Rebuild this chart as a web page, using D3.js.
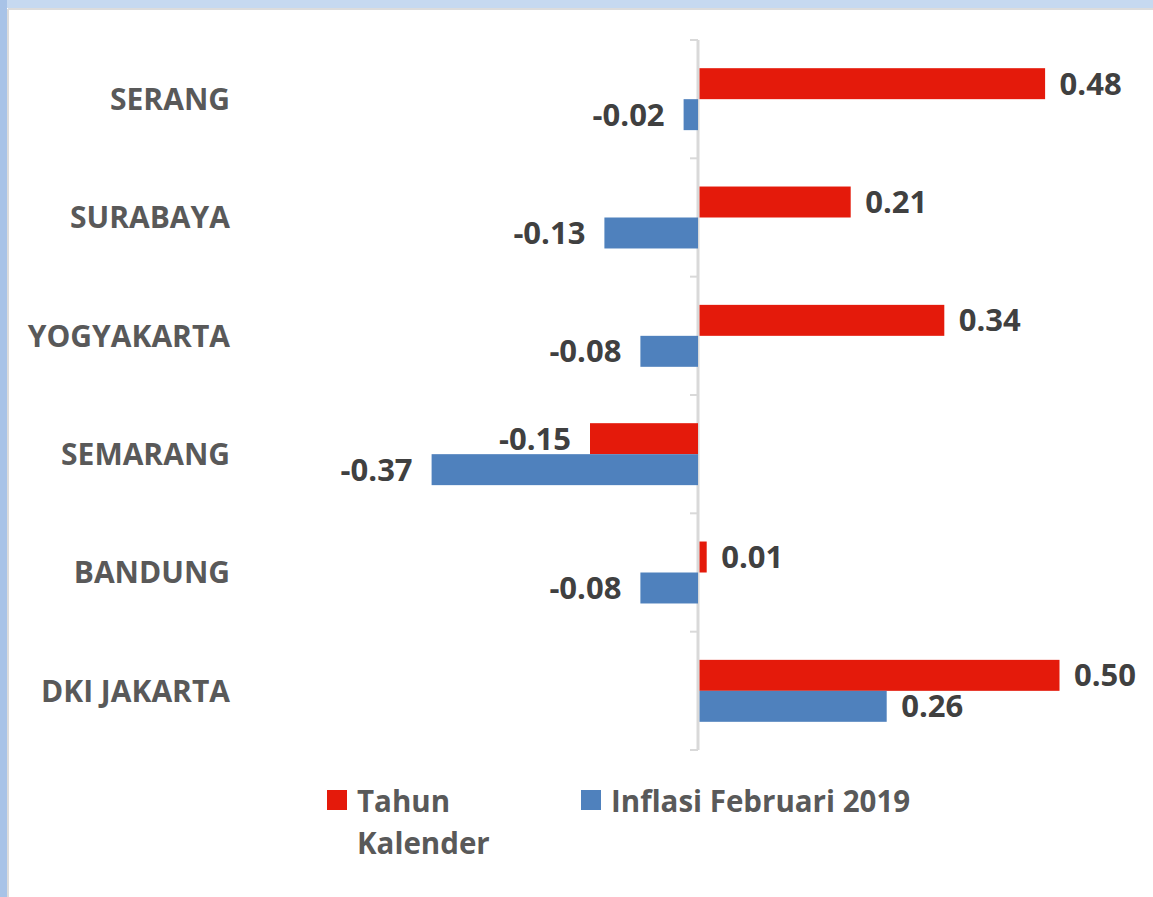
<!DOCTYPE html>
<html lang="en">
<head>
    <meta charset="UTF-8">
    <title>Inflasi Februari 2019</title>
    <script src="https://cdn.jsdelivr.net/npm/d3@7"></script>
    <style>
        body { margin: 0; background: #fff; }
        svg { display: block; font-family: "Open Sans", sans-serif; }
    </style>
</head>
<body>
    <svg id="chart" width="1153" height="897"></svg>
    <script>
        // Data
        const cities = ["SERANG", "SURABAYA", "YOGYAKARTA", "SEMARANG", "BANDUNG", "DKI JAKARTA"];
        const tahunKalender = [0.48, 0.21, 0.34, -0.15, 0.01, 0.50];
        const inflasiFeb = [-0.02, -0.13, -0.08, -0.37, -0.08, 0.26];
        const seriesNames = ["Tahun Kalender", "Inflasi Februari 2019"];
        const seriesColors = ["#e41a0b", "#4f81bd"];

        const width = 1153, height = 897;
        const svg = d3.select("#chart");

        // Frame (light blue strips on top and left)
        svg.append("rect").attr("x", 0).attr("y", 0).attr("width", width).attr("height", 8).attr("fill", "#c6d9f0");
        svg.append("rect").attr("x", 0).attr("y", 0).attr("width", 7).attr("height", height).attr("fill", "#a8c3e7");
        svg.append("line").attr("x1", 8).attr("x2", width).attr("y1", 9).attr("y2", 9)
          .attr("stroke", "#dcdcdc").attr("stroke-width", 2);
        svg.append("line").attr("x1", 8).attr("x2", 8).attr("y1", 9).attr("y2", height)
          .attr("stroke", "#dcdcdc").attr("stroke-width", 2);

        // Scales
        const x = d3.scaleLinear()
          .domain([-0.4, 0.6])
          .range([410, 1130]);

        const y0 = d3.scaleBand()
          .domain(cities)
          .range([40, 750]);

        const y1 = d3.scaleBand()
          .domain(seriesNames)
          .range([0, y0.bandwidth()])
          .paddingOuter(0.91);

        const fmt = v => v.toFixed(2);

        const rows = cities.map((c, i) => ({
          city: c,
          values: [
            { key: seriesNames[0], value: tahunKalender[i], color: seriesColors[0] },
            { key: seriesNames[1], value: inflasiFeb[i], color: seriesColors[1] }
          ]
        }));

        // Axis line with tick marks at band boundaries
        const axis = svg.append("g");
        axis.append("line")
          .attr("x1", x(0)).attr("x2", x(0))
          .attr("y1", y0.range()[0]).attr("y2", y0.range()[1])
          .attr("stroke", "#d9d9d9").attr("stroke-width", 3);
        const bounds = cities.map(c => y0(c)).concat([y0.range()[1]]);
        axis.selectAll(".tick")
          .data(bounds).enter()
          .append("line")
          .attr("x1", x(0) - 8).attr("x2", x(0))
          .attr("y1", d => d).attr("y2", d => d)
          .attr("stroke", "#d9d9d9").attr("stroke-width", 2);

        // Bars
        const groups = svg.append("g")
          .selectAll("g")
          .data(rows).enter()
          .append("g")
          .attr("transform", d => "translate(0," + y0(d.city) + ")");

        groups.selectAll("rect")
          .data(d => d.values).enter()
          .append("rect")
          .attr("x", d => x(Math.min(0, d.value)) + (d.value >= 0 ? 1.5 : 0))
          .attr("y", d => y1(d.key))
          .attr("width", d => Math.abs(x(d.value) - x(0)))
          .attr("height", y1.bandwidth())
          .attr("fill", d => d.color);

        // Value labels
        groups.selectAll("text")
          .data(d => d.values).enter()
          .append("text")
          .attr("x", d => d.value >= 0 ? x(d.value) + 16 : x(d.value) - 19)
          .attr("y", d => y1(d.key) + y1.bandwidth() / 2)
          .attr("dy", "0.36em")
          .attr("text-anchor", d => d.value >= 0 ? "start" : "end")
          .attr("font-size", 31)
          .attr("font-weight", "bold")
          .attr("fill", "#404040")
          .text(d => fmt(d.value));

        // Category labels
        svg.append("g")
          .selectAll("text")
          .data(cities).enter()
          .append("text")
          .attr("x", 230)
          .attr("y", d => y0(d) + y0.bandwidth() / 2)
          .attr("dy", "0.36em")
          .attr("text-anchor", "end")
          .attr("font-size", 30)
          .attr("font-weight", "bold")
          .attr("fill", "#595959")
          .text(d => d);

        // Legend
        const legend = svg.append("g");
        const legendX = [327, 581];
        const legendLines = [["Tahun", "Kalender"], ["Inflasi Februari 2019"]];
        seriesNames.forEach((s, i) => {
          legend.append("rect")
            .attr("x", legendX[i]).attr("y", 790)
            .attr("width", 20).attr("height", 20)
            .attr("fill", seriesColors[i]);
          const t = legend.append("text")
            .attr("x", legendX[i] + 30)
            .attr("y", 812)
            .attr("font-size", 29.5)
            .attr("font-weight", "bold")
            .attr("fill", "#595959");
          legendLines[i].forEach((line, j) => {
            t.append("tspan")
              .attr("x", legendX[i] + 30)
              .attr("dy", j === 0 ? 0 : 42)
              .text(line);
          });
        });
    </script>
</body>
</html>
